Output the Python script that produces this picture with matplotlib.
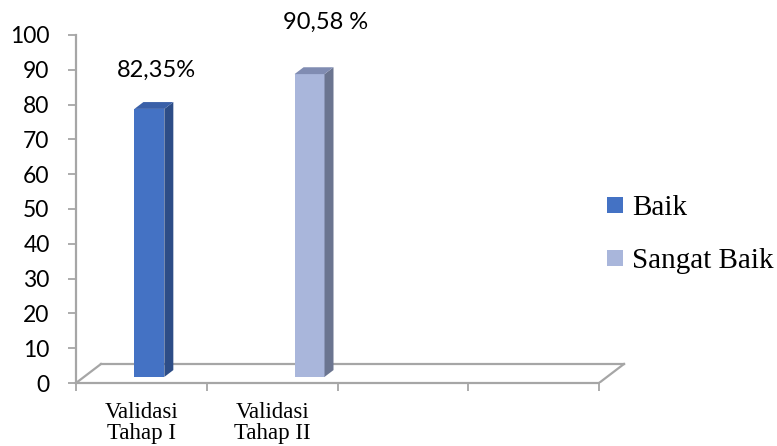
import matplotlib
matplotlib.use("Agg")
import matplotlib.pyplot as plt
from matplotlib.patches import Polygon
from matplotlib.lines import Line2D

# data
categories = ["Validasi\nTahap I", "Validasi\nTahap II", "", ""]
series_names = ["Baik", "Sangat Baik"]
baik = [77, None, None, None]
sangat_baik = [None, 87, None, None]
value_labels = ["82,35%", "90,58 %"]
yticks = list(range(0, 101, 10))

# styling / layout
front_cols = ["#4472C4", "#A9B6DB"]
side_cols = ["#2D4D87", "#6B7590"]
top_cols = ["#3A60A8", "#808CB2"]
series_shift = [0.0, 0.225]
bar_w = 0.229
DX, DY = 0.191, 5.46          # oblique offset of the floor depth
D_FRONT, D_BACK = 0.32, 0.68  # bar depth inside the floor
GRAY = "#A6A6A6"
label_pos = [(0.612, 89.7), (1.912, 103.7)]

fig = plt.figure(figsize=(7.77, 4.46), dpi=100)
ax = fig.add_axes([76/777, 63/446, 584/777, 378/446])
ax.set_xlim(0, 4.4665)
ax.set_ylim(0, 108.6)

# floor
n = len(categories)
ax.plot([0, DX], [0, DY], color=GRAY, lw=1.6, zorder=1, clip_on=False)
ax.plot([DX, n + DX], [DY, DY], color=GRAY, lw=1.6, zorder=1)
ax.plot([n, n + DX], [0, DY], color=GRAY, lw=1.6, zorder=1)


def bar3d(xc, h, k):
    x0 = xc - bar_w / 2 + D_FRONT * DX
    x1 = x0 + bar_w
    y0 = D_FRONT * DY
    ox = (D_BACK - D_FRONT) * DX
    oy = (D_BACK - D_FRONT) * DY
    front = [(x0, y0), (x1, y0), (x1, y0 + h), (x0, y0 + h)]
    side = [(x1, y0), (x1 + ox, y0 + oy), (x1 + ox, y0 + h + oy), (x1, y0 + h)]
    top = [(x0, y0 + h), (x1, y0 + h), (x1 + ox, y0 + h + oy), (x0 + ox, y0 + h + oy)]
    ax.add_patch(Polygon(front, closed=True, fc=front_cols[k], ec="none", zorder=3))
    ax.add_patch(Polygon(side, closed=True, fc=side_cols[k], ec="none", zorder=3))
    ax.add_patch(Polygon(top, closed=True, fc=top_cols[k], ec="none", zorder=3))


for k, vals in enumerate([baik, sangat_baik]):
    for i, v in enumerate(vals):
        if v is not None:
            bar3d(i + 0.5 + series_shift[k], v, k)

for (lx, ly), txt in zip(label_pos, value_labels):
    ax.text(lx, ly, txt, ha="center", va="center", fontsize=17, family="Lato")

# axes
for s in ["top", "right"]:
    ax.spines[s].set_visible(False)
ax.spines["left"].set_bounds(0, 100)
ax.spines["bottom"].set_bounds(0, n)
for s in ["left", "bottom"]:
    ax.spines[s].set_color(GRAY)
    ax.spines[s].set_linewidth(1.6)

ax.set_yticks(yticks)
ax.set_yticklabels([str(t) for t in yticks], fontsize=16.5, family="Lato")
ax.tick_params(axis="y", length=6, width=1.3, color=GRAY, pad=13)

ax.set_xticks(range(n + 1))
ax.set_xticklabels([])
ax.tick_params(axis="x", which="major", length=6, width=1.3, color=GRAY)
ax.set_xticks([i + 0.5 for i in range(n)], minor=True)
ax.set_xticklabels(categories, minor=True, fontsize=16.5, family="Liberation Serif",
                   linespacing=0.95)
ax.tick_params(axis="x", which="minor", length=0, pad=14)

handles = [Line2D([], [], marker="s", ls="", markersize=11, markeredgewidth=0,
                  markerfacecolor=c) for c in front_cols]
fig.legend(handles, series_names, loc="upper left", bbox_to_anchor=(606/777, 1 - 195/446),
           frameon=False, prop={"family": "Liberation Serif", "size": 21},
           handlelength=0.6, handletextpad=0.3, labelspacing=0.9,
           borderpad=0, borderaxespad=0)

fig.savefig("out.png", dpi=100)
